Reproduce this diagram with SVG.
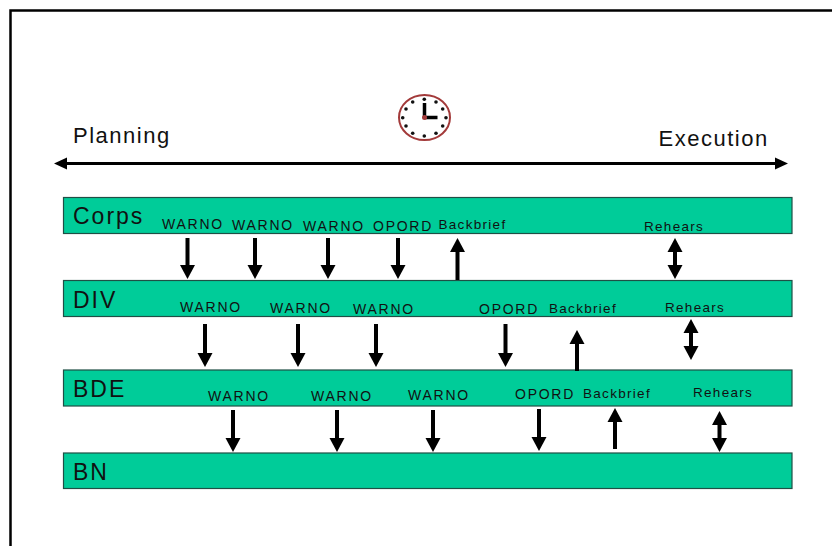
<svg xmlns="http://www.w3.org/2000/svg" width="832" height="546" viewBox="0 0 832 546">
<style>
.bar{fill:#00cc99;stroke:#1f4f45;stroke-width:1.2}
text{font-family:"Liberation Sans",Arial,sans-serif;fill:#111}
.big{font-size:23px;letter-spacing:2px}
.mid{font-size:22px;letter-spacing:1.5px}
.t{font-size:14px;letter-spacing:1.75px}
.b{font-size:13.5px;letter-spacing:1.3px}
.a{stroke:#000;stroke-width:4;fill:none}
.d{marker-end:url(#h)}
.u{marker-end:url(#h)}
.w{marker-start:url(#hs);marker-end:url(#h)}
</style>
<defs>
<marker id="h" markerUnits="userSpaceOnUse" markerWidth="16" markerHeight="16" refX="0" refY="8" orient="auto"><path d="M0 0.5L14 8L0 15.500Z" fill="#000"/></marker>
<marker id="hs" markerUnits="userSpaceOnUse" markerWidth="16" markerHeight="16" refX="14" refY="8" orient="auto"><path d="M14 0.500L0 8L14 15.500Z" fill="#000"/></marker>
<marker id="ht" markerUnits="userSpaceOnUse" markerWidth="14" markerHeight="14" refX="0" refY="7" orient="auto"><path d="M0 1L13 7L0 13Z" fill="#000"/></marker>
<marker id="hts" markerUnits="userSpaceOnUse" markerWidth="14" markerHeight="14" refX="13" refY="7" orient="auto"><path d="M13 1L0 7L13 13Z" fill="#000"/></marker>
</defs>
<rect width="832" height="546" fill="#fff"/>
<path d="M10.500 546V10.500H832" fill="none" stroke="#000" stroke-width="2.500"/>
<g id="clock">
<ellipse cx="424.500" cy="117.500" rx="25.500" ry="22.500" fill="#fff" stroke="#a33a3a" stroke-width="2"/>
<g fill="#111">
<circle cx="424.300" cy="99.300" r="1.800"/><circle cx="436" cy="102" r="1.800"/><circle cx="442.700" cy="109" r="1.800"/><circle cx="446" cy="117.700" r="1.800"/><circle cx="442.700" cy="126" r="1.800"/><circle cx="436" cy="133.300" r="1.800"/><circle cx="424.300" cy="136" r="1.800"/><circle cx="412.700" cy="133.300" r="1.800"/><circle cx="406" cy="126" r="1.800"/><circle cx="402.700" cy="117.700" r="1.800"/><circle cx="406" cy="109" r="1.800"/><circle cx="412.700" cy="102" r="1.800"/>
</g>
<path d="M424.500 117.500V103M424.500 117.500H437.500" stroke="#000" stroke-width="3.500" fill="none"/>
<circle cx="424.500" cy="117.500" r="2.500" fill="#a33a3a"/>
</g>
<g id="corps"><rect class="bar" x="63.500" y="197.500" width="728.500" height="36"/><text class="big" x="73" y="224">Corps</text></g>
<g id="div"><rect class="bar" x="63.500" y="280.500" width="728.500" height="36"/><text class="big" x="73" y="307.500">DIV</text></g>
<g id="bde"><rect class="bar" x="63.500" y="370" width="728.500" height="36"/><text class="big" x="73" y="397">BDE</text></g>
<g id="bn"><rect class="bar" x="63.500" y="453" width="728.500" height="35.500"/><text class="big" x="73" y="480">BN</text></g>
<g id="labels">
<text class="mid" x="73" y="143">Planning</text>
<text class="mid" x="658.500" y="146">Execution</text>
<text class="t" x="162" y="229">WARNO</text><text class="t" x="232" y="230">WARNO</text><text class="t" x="303" y="231">WARNO</text><text class="t" x="373" y="231">OPORD</text><text class="b" x="438.500" y="229">Backbrief</text><text class="b" x="644" y="231">Rehears</text>
<text class="t" x="180" y="312">WARNO</text><text class="t" x="270" y="313">WARNO</text><text class="t" x="353" y="314">WARNO</text><text class="t" x="479" y="314">OPORD</text><text class="b" x="549" y="313">Backbrief</text><text class="b" x="665" y="312">Rehears</text>
<text class="t" x="208" y="401">WARNO</text><text class="t" x="311" y="401">WARNO</text><text class="t" x="408" y="400">WARNO</text><text class="t" x="515" y="399">OPORD</text><text class="b" x="583" y="398">Backbrief</text><text class="b" x="693" y="397">Rehears</text>
</g>
<g id="connectors">
<path d="M67 163.500H775" stroke="#000" stroke-width="3" fill="none" marker-start="url(#hts)" marker-end="url(#ht)"/>
<path class="a d" d="M187.500 238V265"/><path class="a d" d="M255 238V265"/><path class="a d" d="M328 238V265"/><path class="a d" d="M398 238V265"/><path class="a u" d="M457.500 280V252"/><path class="a w" d="M675 252V265"/>
<path class="a d" d="M205 324V353"/><path class="a d" d="M298 324V353"/><path class="a d" d="M376 324V353"/><path class="a d" d="M505.500 324V353"/><path class="a u" d="M577 371V344"/><path class="a w" d="M691 333V346"/>
<path class="a d" d="M233 410V438"/><path class="a d" d="M337 410V438"/><path class="a d" d="M433 410V438"/><path class="a d" d="M539 409V437"/><path class="a u" d="M615 449V422"/><path class="a w" d="M719.500 425V438"/>
</g>
</svg>
